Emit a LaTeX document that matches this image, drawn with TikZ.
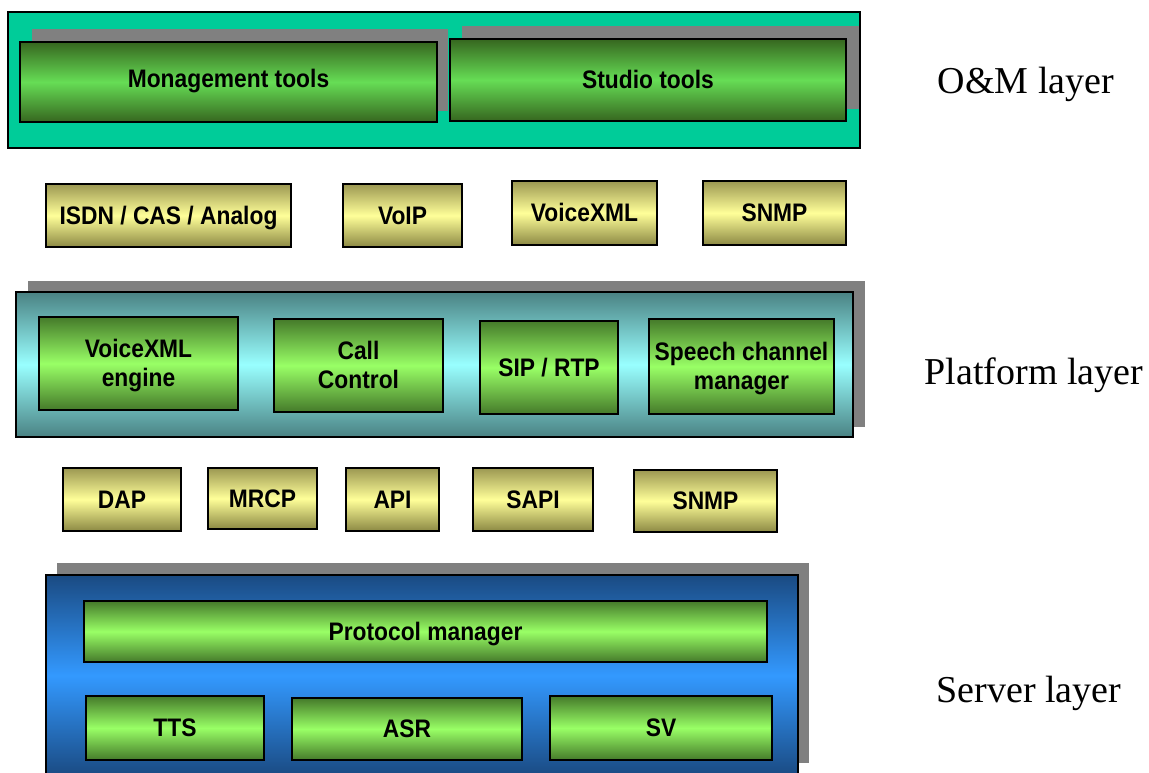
\documentclass[tikz,border=0pt]{standalone}
\usepackage{fontspec}
\usetikzlibrary{fit}
\newfontfamily\boxfont[FakeStretch=0.9]{Liberation Sans}
\newfontfamily\labelfont{Liberation Serif}

\definecolor{omteal}{HTML}{00CC99}
\definecolor{omdark}{HTML}{36661F}
\definecolor{omlight}{HTML}{66DD55}
\definecolor{limedark}{HTML}{457A2A}
\definecolor{limelight}{HTML}{99FF66}
\definecolor{ytop}{HTML}{9C9852}
\definecolor{ymid}{HTML}{FFFF99}
\definecolor{ybot}{HTML}{8C8944}
\definecolor{platdark}{HTML}{4A8283}
\definecolor{platlight}{HTML}{99FFFF}
\definecolor{servdark}{HTML}{1A4A82}
\definecolor{servlight}{HTML}{3399FF}
\definecolor{shadowgray}{HTML}{808080}

\tikzset{
  block/.style={draw=black, line width=1pt, inner sep=0pt},
  omblock/.style={block, top color=omdark, bottom color=omdark, middle color=omlight},
  limeblock/.style={block, top color=limedark, bottom color=limedark, middle color=limelight},
  ifblock/.style={block, top color=ytop, bottom color=ybot, middle color=ymid},
  omlayer/.style={draw=black, line width=1pt, inner sep=0pt, fill=omteal},
  platlayer/.style={draw=black, line width=1pt, inner sep=0pt,
    top color=platdark, bottom color=platdark, middle color=platlight},
  servlayer/.style={draw=black, line width=1pt, inner sep=0pt,
    top color=servdark, bottom color=servdark, middle color=servlight},
  shadowrect/.style={fill=shadowgray},
  % one-line caption: baseline sits half a cap height below the box centre
  caption/.style={anchor=base, inner sep=0pt, align=center, yshift=-6.4pt,
    font=\boxfont\bfseries\fontsize{19}{21.75}\selectfont},
  % two-line caption: the base anchor is the last line's baseline
  caption2/.style={anchor=base, inner sep=0pt, align=center, yshift=-17.6pt,
    font=\boxfont\bfseries\fontsize{19}{21.75}\selectfont},
  layerlabel/.style={anchor=base, inner sep=0pt,
    font=\labelfont\fontsize{28.5}{30}\selectfont}
}

\begin{document}
\begin{tikzpicture}[x=0.75pt, y=-0.75pt]
  \fill[white] (0,0) rectangle (1149,773);
  \useasboundingbox (0,0) rectangle (1149,773);

  % O&M layer
  \node[omlayer, fit={(8,12) (860,148)}] (om) {};
  \fill[shadowrect] (32,29) rectangle (448,111);
  \node[omblock, fit={(20,42) (437,122)}] (mgmt) {};
  \fill[shadowrect] (462,26) rectangle (859,109);
  \node[omblock, fit={(450,39) (846,121)}] (studio) {};
  \node[caption] (mgmt-t) at ([yshift=2pt]mgmt.center) {Monagement tools};
  \node[caption] (studio-t) at (studio.center) {Studio tools};

  % interfaces between O&M and platform
  \node[ifblock, fit={(46,184) (291,247)}] (isdn) {};
  \node[ifblock, fit={(343,184) (462,247)}] (voip) {};
  \node[ifblock, fit={(512,181) (657,245)}] (vxml) {};
  \node[ifblock, fit={(703,181) (846,245)}] (snmpa) {};
  \node[caption] (isdn-t) at (isdn.center) {ISDN / CAS / Analog};
  \node[caption] (voip-t) at (voip.center) {VoIP};
  \node[caption] (vxml-t) at (vxml.center) {VoiceXML};
  \node[caption] (snmpa-t) at (snmpa.center) {SNMP};

  % platform layer
  \fill[shadowrect] (28,281) rectangle (865,427);
  \node[platlayer, fit={(16,292) (853,437)}] (plat) {};
  \node[limeblock, fit={(39,317) (238,410)}] (vxe) {};
  \node[limeblock, fit={(274,319) (443,412)}] (cc) {};
  \node[limeblock, fit={(480,321) (618,414)}] (sip) {};
  \node[limeblock, fit={(649,319) (834,414)}] (scm) {};
  \node[caption2] (vxe-t) at (vxe.center) {VoiceXML\\engine};
  \node[caption2] (cc-t) at (cc.center) {Call\\Control};
  \node[caption] (sip-t) at (sip.center) {SIP / RTP};
  \node[caption2] (scm-t) at (scm.center) {Speech channel\\manager};

  % interfaces between platform and servers
  \node[ifblock, fit={(63,468) (181,531)}] (dap) {};
  \node[ifblock, fit={(208,468) (317,529)}] (mrcp) {};
  \node[ifblock, fit={(346,468) (439,531)}] (api) {};
  \node[ifblock, fit={(473,468) (593,531)}] (sapi) {};
  \node[ifblock, fit={(634,470) (777,532)}] (snmpb) {};
  \node[caption] (dap-t) at (dap.center) {DAP};
  \node[caption] (mrcp-t) at (mrcp.center) {MRCP};
  \node[caption] (api-t) at (api.center) {API};
  \node[caption] (sapi-t) at (sapi.center) {SAPI};
  \node[caption] (snmpb-t) at (snmpb.center) {SNMP};

  % server layer
  \fill[shadowrect] (57,563) rectangle (809,763);
  \node[servlayer, fit={(46,575) (798,776)}] (serv) {};
  \node[limeblock, fit={(84,601) (767,662)}] (proto) {};
  \node[limeblock, fit={(86,696) (264,760)}] (tts) {};
  \node[limeblock, fit={(292,698) (522,760)}] (asr) {};
  \node[limeblock, fit={(550,696) (772,760)}] (sv) {};
  \node[caption] (proto-t) at (proto.center) {Protocol manager};
  \node[caption] (tts-t) at (tts.center) {TTS};
  \node[caption] (asr-t) at (asr.center) {ASR};
  \node[caption] (sv-t) at (sv.center) {SV};

  % layer names
  \node[layerlabel] (omlbl) at (1026,94) {O\&M layer};
  \node[layerlabel] (platlbl) at (1034,385) {Platform layer};
  \node[layerlabel] (servlbl) at (1029,702) {Server layer};
\end{tikzpicture}
\end{document}
